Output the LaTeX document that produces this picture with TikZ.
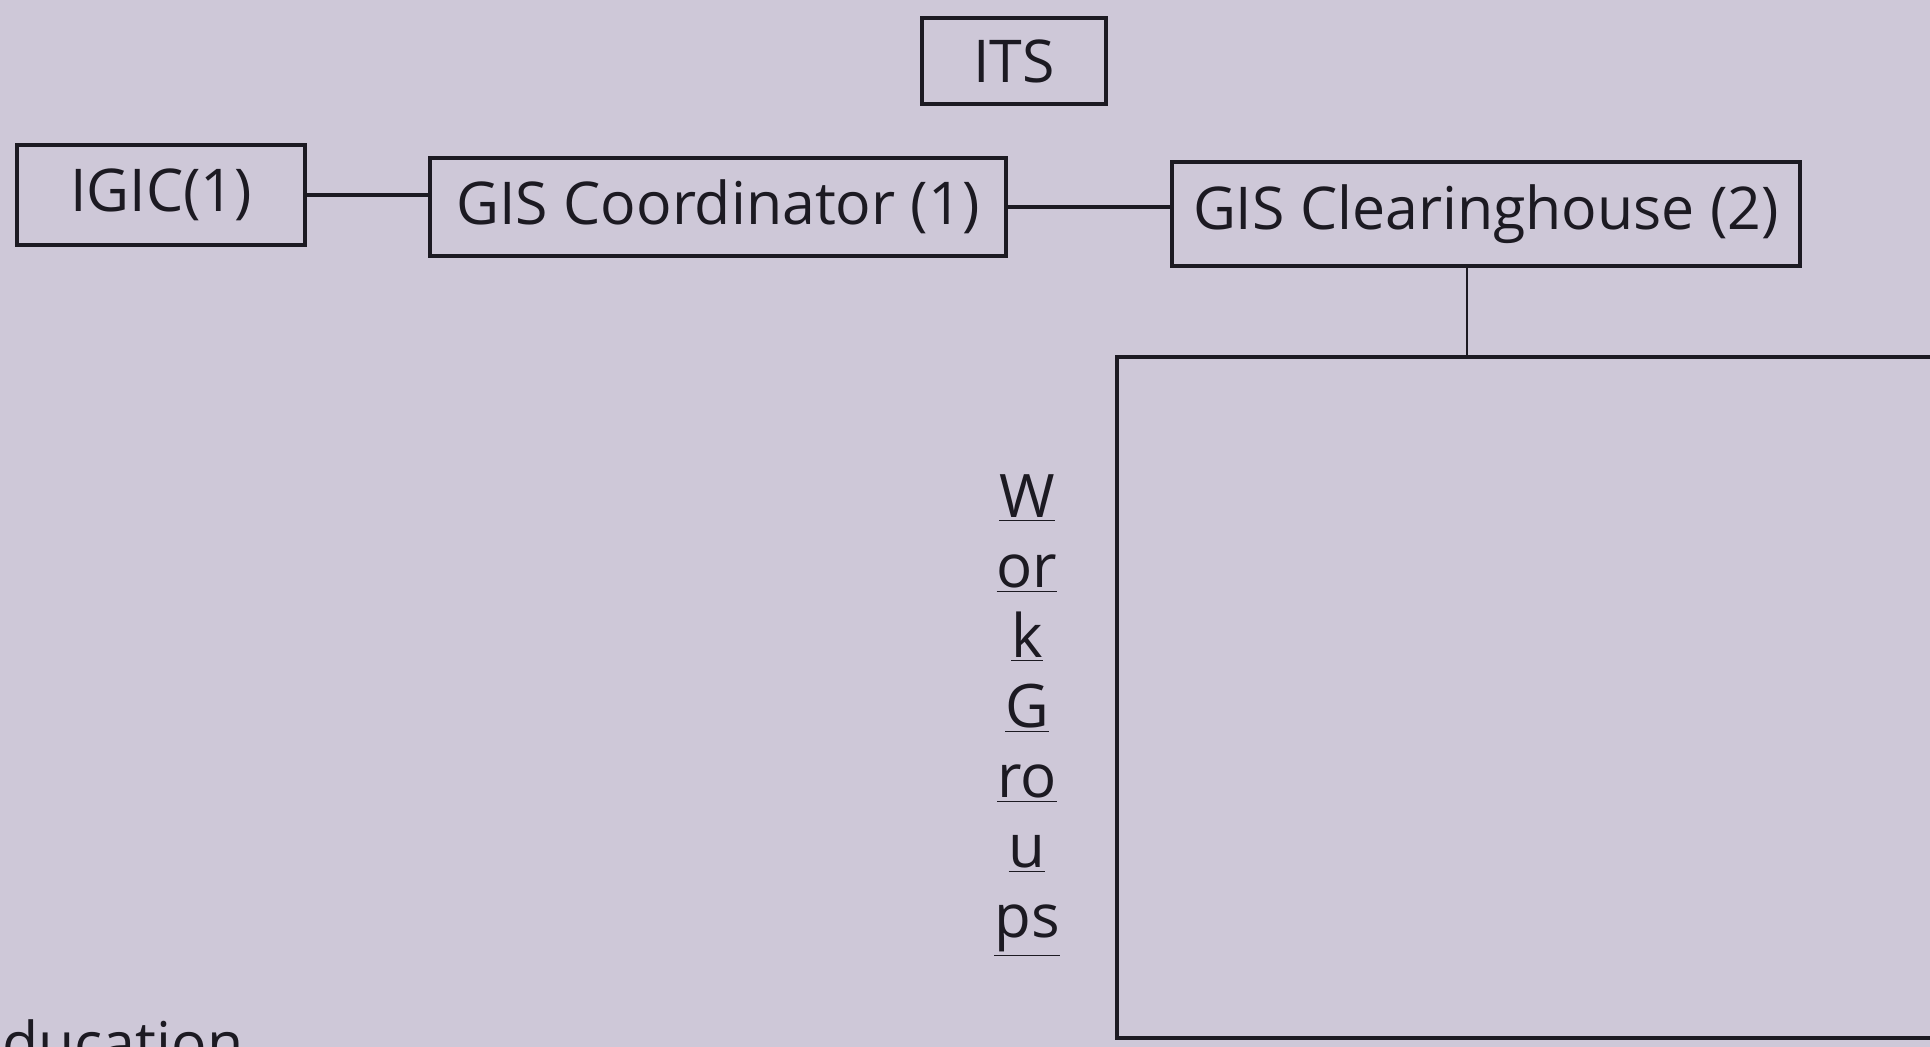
\documentclass[tikz,border=0pt]{standalone}
\usepackage{fontspec}
\setmainfont{Open Sans}
\definecolor{paper}{RGB}{206,200,216}
\definecolor{ink}{RGB}{28,26,34}
\begin{document}
\begin{tikzpicture}[x=0.5pt,y=-0.5pt,
  box/.style={draw=ink,line width=2.2pt,rectangle,inner sep=0pt,text=ink,font=\fontsize{29.5}{33}\selectfont},
  link/.style={draw=ink,line width=2pt},
  thinlink/.style={draw=ink,line width=1.3pt}]
\fill[paper] (0,0) rectangle (1930,1047);
\useasboundingbox (0,0) rectangle (1930,1047);
\clip (0,0) rectangle (1930,1047);
\node[box,minimum width=92pt,minimum height=43pt] (its) at (1014,61) {ITS};
\node[box,minimum width=144pt,minimum height=50pt] (igic) at (161,195) {IGIC(1)};
\node[box,minimum width=288pt,minimum height=49pt] (coord) at (718,207) {GIS Coordinator (1)};
\node[box,minimum width=314pt,minimum height=52pt] (clear) at (1486,214) {GIS Clearinghouse (2)};
\draw[link] (igic.east) -- (igic.east -| coord.west);
\draw[link] (coord.east) -- (coord.east -| clear.west);
\draw[draw=ink,line width=2pt] (2000,357) -- (1117,357) -- (1117,1038) -- (2000,1038);
\coordinate (wgtop) at (1467,357);
\draw[thinlink] (clear.south -| wgtop) -- (wgtop);
\node[text=ink,font=\fontsize{30}{35}\selectfont,align=center,anchor=north] (wg) at (1027,468)
  {\underline{W}\\\underline{or}\\\underline{k}\\\underline{G}\\\underline{ro}\\\underline{u}\\\underline{ps}};
\node[text=ink,font=\fontsize{29.5}{33}\selectfont,anchor=base west,inner sep=0pt] (edu) at (2,1064) {ducation};
\end{tikzpicture}
\end{document}
